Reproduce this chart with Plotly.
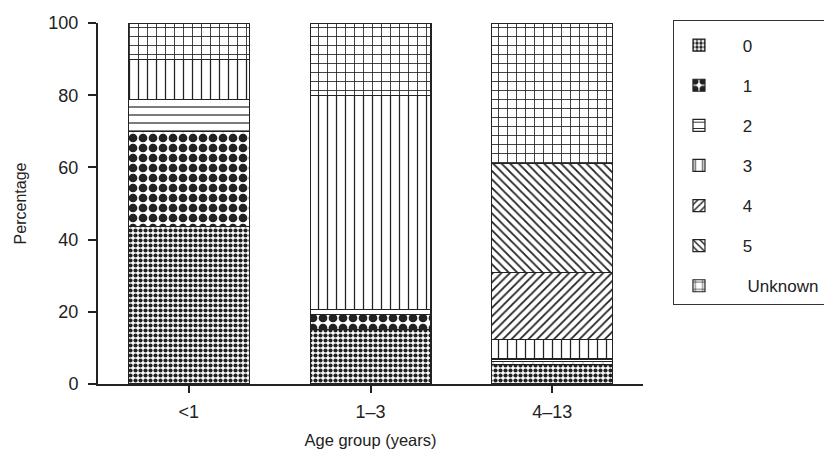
import plotly.graph_objects as go

categories = ["<1", "1\u20133", "4\u201313"]
series_names = ["0", "1", "2", "3", "4", "5", "Unknown"]
v0 = [43.7, 15.0, 5.3]
v1 = [26.2, 4.2, 1.0]
v2 = [9.0, 1.5, 0.6]
v3 = [10.9, 59.3, 5.5]
v4 = [0.0, 0.0, 18.5]
v5 = [0.0, 0.0, 30.1]
vU = [10.2, 20.0, 39.0]
values = [v0, v1, v2, v3, v4, v5, vU]

patterns = [
    dict(shape=".", size=5, solidity=0.55),
    dict(shape=".", size=10, solidity=0.6),
    dict(shape="-", size=8, solidity=0.15),
    dict(shape="|", size=9, solidity=0.14),
    dict(shape="/", size=6, solidity=0.3),
    dict(shape="\\", size=6, solidity=0.3),
    dict(shape="+", size=9, solidity=0.18),
]

NB = "\u00a0"
fig = go.Figure()
for name, vals, pat in zip(series_names, values, patterns):
    label = (NB * 5 if name == "Unknown" else NB * 4) + name
    fig.add_trace(go.Bar(
        x=categories, y=vals, name=label,
        legendgroup=name,
        width=0.665,
        marker=dict(
            color="white",
            line=dict(color="#222", width=1.2),
            pattern=dict(fgcolor="#222", bgcolor="white", fillmode="replace", **pat),
        ),
    ))

font = "Liberation Sans, Arial, sans-serif"
fig.update_layout(
    barmode="stack",
    width=824, height=452,
    margin=dict(l=98, r=181, t=23, b=68, autoexpand=False),
    paper_bgcolor="white", plot_bgcolor="white",
    font=dict(family=font, size=18, color="#222"),
    showlegend=True,
    legend=dict(
        x=1.055, xanchor="left", y=1.008, yanchor="top",
        traceorder="grouped", tracegroupgap=15,
        bordercolor="#333", borderwidth=1,
        itemwidth=40, maxheight=440,
        font=dict(size=17),
        title=dict(text=NB, font=dict(size=5)),
    ),
    xaxis=dict(
        range=[-0.5, 2.5], showline=True, linecolor="#222", linewidth=2,
        ticks="outside", ticklen=7, tickwidth=2, tickcolor="#222",
        showgrid=False, ticklabelstandoff=3,
        title=dict(text="Age group (years)", font=dict(size=16.5), standoff=14),
    ),
    yaxis=dict(
        range=[0, 100], showline=True, linecolor="#222", linewidth=2,
        ticks="outside", ticklen=8, tickwidth=2, tickcolor="#222",
        tickvals=[0, 20, 40, 60, 80, 100], showgrid=False, zeroline=False,
        ticklabelstandoff=6,
        title=dict(text="Percentage", font=dict(size=16), standoff=18),
    ),
)

fig.write_html("out.html", config={"displayModeBar": False},
               post_script="document.body.style.margin='0px';")
